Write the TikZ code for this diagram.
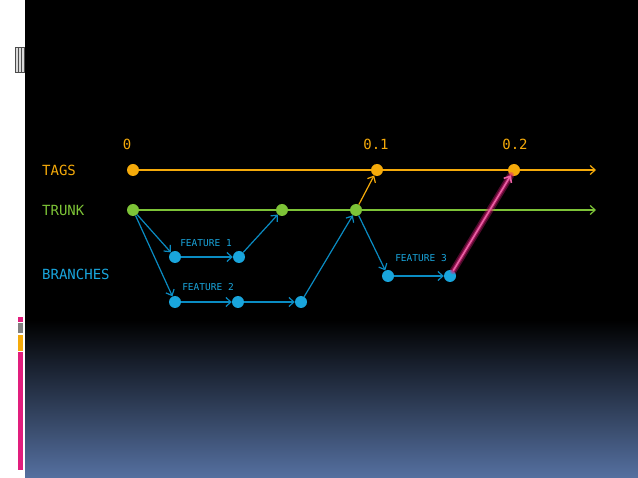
\documentclass[tikz,border=0pt]{standalone}
\usepackage{fontspec}
\setmonofont{DejaVu Sans Mono}
\usetikzlibrary{arrows.meta}
\definecolor{tagcol}{RGB}{245,170,10}
\definecolor{trunkcol}{RGB}{125,195,55}
\definecolor{branchcol}{RGB}{25,165,220}
\definecolor{branchline}{RGB}{10,140,195}
\definecolor{mergecol}{RGB}{225,30,125}
\definecolor{bottomcol}{RGB}{85,112,160}
\tikzstyle{commit}=[circle, minimum size=12pt, inner sep=0pt]
\tikzstyle{tag commit}=[commit, fill=tagcol]
\tikzstyle{trunk commit}=[commit, fill=trunkcol]
\tikzstyle{branch commit}=[commit, fill=branchcol]
\tikzstyle{lane label}=[font=\ttfamily\fontsize{14}{16}\selectfont, anchor=west, inner sep=0pt]
\tikzstyle{branch label}=[font=\ttfamily\fontsize{9.5}{11}\selectfont, text=branchcol, inner sep=0pt]
\tikzstyle{version}=[font=\ttfamily\fontsize{14}{16}\selectfont, text=tagcol, inner sep=0pt]
\tikzstyle{flow}=[line width=1.2pt, -{Straight Barb[length=5pt,width=9pt]}]
\tikzstyle{branch flow}=[flow, draw=branchline]

\begin{document}
\begin{tikzpicture}[x=1pt, y=-1pt]
      \useasboundingbox (0,0) rectangle (638,478);
      \fill[white] (0,0) rectangle (25,478);
      \fill[black] (25,0) rectangle (638,321);
      \shade[top color=black, bottom color=bottomcol] (25,320) rectangle (638,478);
      \fill[black!70] (15,47) rectangle (25,73);
      \foreach \x in {16,19,22}
        \fill[white!85!black] (\x,48) rectangle (\x+1.6,72);
      \fill[mergecol] (18,317) rectangle (23,322);
      \fill[gray] (18,323) rectangle (23,333);
      \fill[tagcol] (18,335) rectangle (23,351);
      \fill[mergecol] (18,352) rectangle (23,470);

      \node[lane label, text=tagcol] (tags) at (42,170) {TAGS};
      \node[lane label, text=trunkcol] (trunk) at (42,210) {TRUNK};
      \node[lane label, text=branchcol] (branches) at (42,274) {BRANCHES};

      \node[tag commit] (t0) at (133,170) {};
      \node[tag commit] (t1) at (377,170) {};
      \node[tag commit] (t2) at (514,170) {};
      \coordinate (tend) at (596,170);
      \node[version] (v0) at (127,144) {0};
      \node[version] (v1) at (376,144) {0.1};
      \node[version] (v2) at (515,144) {0.2};

      \node[trunk commit] (r0) at (133,210) {};
      \node[trunk commit] (r1) at (282,210) {};
      \node[trunk commit] (r2) at (356,210) {};
      \coordinate (rend) at (596,210);

      \node[branch commit] (a1) at (175,257) {};
      \node[branch commit] (a2) at (239,257) {};
      \node[branch label] (fa) at (206,243) {FEATURE 1};
      \node[branch commit] (b1) at (175,302) {};
      \node[branch commit] (b2) at (238,302) {};
      \node[branch commit] (b3) at (301,302) {};
      \node[branch label] (fb) at (208,287) {FEATURE 2};
      \node[branch commit] (c1) at (388,276) {};
      \node[branch commit] (c2) at (450,276) {};
      \node[branch label] (fc) at (421,258) {FEATURE 3};

      \draw[tagcol, line width=1.2pt] (t0) -- (t1) (t1) -- (t2);
      \draw[flow, tagcol] (t2) -- (tend);
      \draw[trunkcol, line width=1.2pt] (r0) -- (r1) (r1) -- (r2);
      \draw[flow, trunkcol] (r2) -- (rend);
      \draw[branch flow] (r0) -- (a1);
      \draw[branch flow] (r0) -- (b1);
      \draw[branch flow] (a1) -- (a2);
      \draw[branch flow] (a2) -- (r1);
      \draw[branch flow] (b1) -- (b2);
      \draw[branch flow] (b2) -- (b3);
      \draw[branch flow] (b3) -- (r2);
      \draw[flow, tagcol] (r2) -- (t1);
      \draw[branch flow] (r2) -- (c1);
      \draw[branch flow] (c1) -- (c2);
      \draw[mergecol, opacity=0.35, line width=7pt, line cap=round] (c2) -- (t2);
      \draw[mergecol, opacity=0.5, line width=4pt, line cap=round] (c2) -- (t2);
      \draw[flow, mergecol!70!white, line width=1.6pt] (c2) -- (t2);
    \end{tikzpicture}
\end{document}
